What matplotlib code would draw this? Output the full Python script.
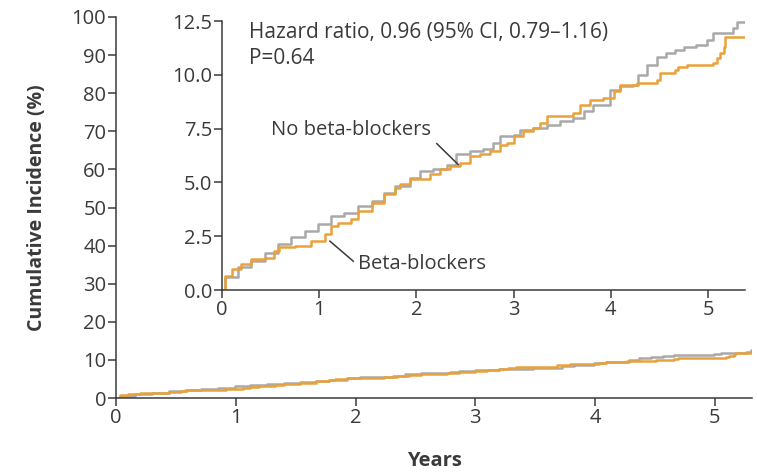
import numpy as np
import matplotlib.pyplot as plt

plt.rcParams['font.family'] = ['Open Sans', 'DejaVu Sans']

# years / cumulative incidence (%)
t_no_bb = [0, 0.03, 0.16, 0.30, 0.44, 0.58, 0.71, 0.85, 0.99, 1.12, 1.26, 1.40,
           1.54, 1.67, 1.78, 1.93, 2.04, 2.17, 2.31, 2.41, 2.55, 2.69, 2.79, 2.86,
           3.0, 3.07, 3.20, 3.34, 3.48, 3.61, 3.72, 3.82, 3.99, 4.09, 4.23, 4.28,
           4.37, 4.47, 4.57, 4.66, 4.75, 4.88, 4.99, 5.05, 5.26, 5.30, 5.38]
v_no_bb = [0, 0.6, 1.05, 1.36, 1.74, 2.13, 2.44, 2.75, 3.06, 3.44, 3.6, 3.9,
           4.13, 4.52, 4.83, 5.22, 5.52, 5.6, 5.83, 6.3, 6.45, 6.53, 6.84, 7.14,
           7.22, 7.45, 7.53, 7.69, 7.84, 7.99, 8.30, 8.61, 9.31, 9.46, 9.54, 10.0,
           10.46, 10.85, 11.0, 11.16, 11.31, 11.39, 11.62, 11.93, 12.16, 12.47, 12.47]

t_bb = [0, 0.03, 0.10, 0.20, 0.30, 0.44, 0.54, 0.59, 0.75, 0.92, 1.06, 1.12,
        1.19, 1.33, 1.40, 1.54, 1.67, 1.78, 1.83, 1.93, 2.14, 2.24, 2.35, 2.45,
        2.55, 2.65, 2.76, 2.86, 2.93, 3.0, 3.10, 3.20, 3.27, 3.34, 3.61, 3.68,
        3.79, 3.92, 4.03, 4.09, 4.27, 4.47, 4.51, 4.66, 4.69, 4.78, 5.05, 5.09,
        5.12, 5.16, 5.17, 5.38]
v_bb = [0, 0.66, 0.97, 1.2, 1.43, 1.51, 1.82, 1.98, 2.05, 2.28, 2.59, 2.98,
        3.13, 3.29, 3.67, 4.06, 4.44, 4.75, 4.91, 5.14, 5.37, 5.6, 5.75, 5.91,
        6.22, 6.3, 6.45, 6.76, 6.84, 7.14, 7.38, 7.53, 7.76, 8.07, 8.23, 8.61,
        8.84, 8.92, 9.23, 9.54, 9.62, 9.77, 10.08, 10.23, 10.38, 10.46, 10.54, 10.77,
        11.0, 11.31, 11.77, 11.77]

gray = '#a9a9a9'
orange = '#e9a23b'
dark = '#3a3a3a'

fig = plt.figure(figsize=(7.57, 4.76), dpi=100)

# main panel
ax = fig.add_axes([116/757, 78/476, 636/757, 381/476])
ax.plot(t_no_bb, v_no_bb, drawstyle='steps-post', color=gray, lw=1.8)
ax.plot(t_bb, v_bb, drawstyle='steps-post', color=orange, lw=1.8)
ax.set_xlim(0, 5.31)
ax.set_ylim(0, 100)
ax.set_xticks(range(6))
ax.set_yticks(range(0, 101, 10))
ax.set_xlabel('Years', fontsize=14.5, fontweight='bold', color=dark, labelpad=17)
ax.set_ylabel('Cumulative Incidence (%)', fontsize=14, fontweight='bold', color=dark, labelpad=18)

# inset
ins = fig.add_axes([222/757, 186/476, 523/757, 269/476])
ins.patch.set_alpha(0)
ins.plot(t_no_bb, v_no_bb, drawstyle='steps-post', color=gray, lw=1.8)
ins.plot(t_bb, v_bb, drawstyle='steps-post', color=orange, lw=1.8)
ins.set_xlim(0, 5.38)
ins.set_ylim(0, 12.5)
ins.set_xticks(range(6))
ins.set_yticks([0, 2.5, 5, 7.5, 10, 12.5])
ins.set_yticklabels(['0.0', '2.5', '5.0', '7.5', '10.0', '12.5'])

for a in (ax, ins):
    a.spines['top'].set_visible(False)
    a.spines['right'].set_visible(False)
    for s in ('left', 'bottom'):
        a.spines[s].set_color(dark)
        a.spines[s].set_linewidth(1.1)
    a.tick_params(direction='out', length=6, width=1.1, color=dark,
                  labelsize=14.5, labelcolor=dark, pad=1)

ins.text(0.28, 12.45, 'Hazard ratio, 0.96 (95% CI, 0.79\u20131.16)\nP=0.64',
         fontsize=15, color=dark, va='top', linespacing=1.3)
ins.text(0.50, 7.45, 'No beta-blockers', fontsize=14.5, color=dark, va='center')
ins.plot([2.21, 2.43], [6.8, 5.83], color=dark, lw=1.1)
ins.text(1.40, 1.2, 'Beta-blockers', fontsize=14.5, color=dark, va='center')
ins.plot([1.35, 1.11], [1.34, 2.27], color=dark, lw=1.1)

fig.savefig('out.png', dpi=100)
